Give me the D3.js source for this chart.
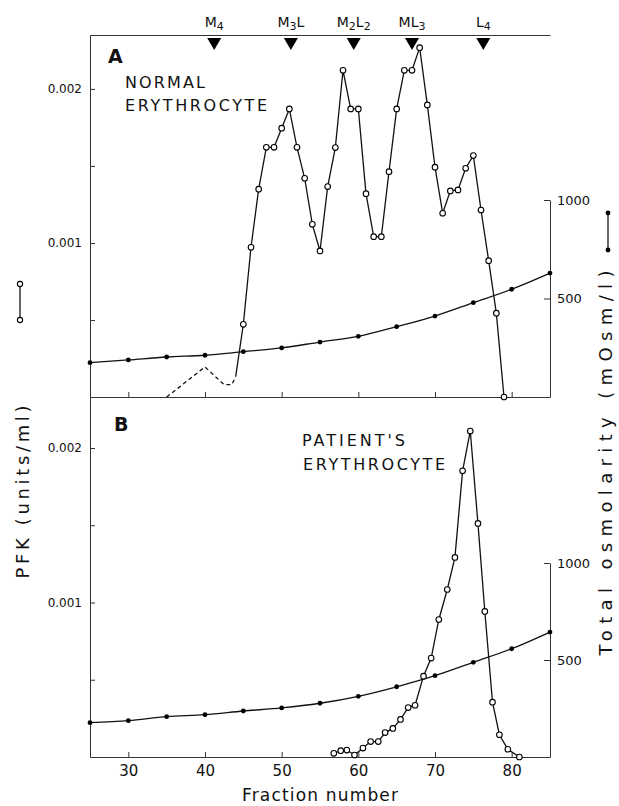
<!DOCTYPE html>
<html><head><meta charset="utf-8">
<script src="https://cdn.jsdelivr.net/npm/d3@7"></script>
<style>
body{margin:0;background:#fff}
svg{display:block}
text{font-family:'DejaVu Sans',sans-serif;fill:#111}
</style>
</head><body>
<svg id="c" width="619" height="806"></svg>
<script>
// ---------------- data ----------------
const osmFractions = [25,30,35,40,45,50,55,60,65,70,75,80,85];
const osmNormal  = [174,188,203,212,230,249,279,308,357,411,479,547,629];
const osmPatient = [177,187,208,218,237,253,277,313,362,419,488,558,644];

const normalFractions = [44,45,46,47,48,49,50,51,52,53,54,55,56,57,58,59,60,61,62,63,64,65,66,67,68,69,70,71,72,73,74,75,76,77,78,79];
const normalPFK = [0.000132,0.000472,0.000972,0.001349,0.001621,0.001621,0.001745,0.00187,0.001621,0.00142,0.001121,0.000948,0.001366,0.001619,0.002121,0.00187,0.00187,0.00132,0.001041,0.001041,0.001463,0.00187,0.002121,0.002121,0.002268,0.001896,0.001492,0.001193,0.001338,0.001344,0.001485,0.001567,0.001214,0.000885,0.000544,0];

const normalDashFractions = [35,40,42.5,43.5,44];
const normalDashPFK = [0,0.000195,0.00008,0.00008,0.000132];

const patientFractions = [56.8,57.7,58.5,59.5,60.6,61.6,62.6,63.5,64.5,65.5,66.5,67.4,68.5,69.5,70.5,71.6,72.6,73.6,74.6,75.6,76.5,77.5,78.4,79.5,81];
const patientPFK = [0.000024,0.000041,0.000045,0.000013,0.000058,0.0001,0.0001,0.000158,0.000185,0.000243,0.00032,0.000335,0.000523,0.00064,0.00089,0.001084,0.001292,0.001852,0.00211,0.001512,0.000942,0.000355,0.000144,0.00005,0];

const isozymeNames = ["M4","M3L","M2L2","ML3","L4"];
const isozymeFractions = [41.2,51.2,59.4,67.0,76.3];

const xTicks = [30,40,50,60,70,80];
const pfkTicks = [0.0005,0.001,0.0015,0.002];
const pfkLabels = [0.001,0.002];
const osmTicks = [500,1000];

// ---------------- scales ----------------
const svg = d3.select("#c");
const x  = d3.scaleLinear().domain([25,85]).range([90,550]);
const yA = d3.scaleLinear().domain([0,0.00235]).range([397,35]);
const yB = d3.scaleLinear().domain([0,0.00233]).range([757,397]);
const oA = d3.scaleLinear().domain([0,1000]).range([397,200]);
const oB = d3.scaleLinear().domain([0,1000]).range([757,563]);

const axisColor = "#333";
function styleAxis(g, fs){
  g.select(".domain").attr("stroke", axisColor).attr("stroke-width",1);
  g.selectAll(".tick line").attr("stroke", axisColor).attr("stroke-width",1);
  g.selectAll(".tick text").attr("fill","#111").style("font-family","'DejaVu Sans',sans-serif").style("font-size",fs+"px");
}
const pfkFmt = d => pfkLabels.includes(d) ? d3.format(".3f")(d) : "";

// left axes
svg.append("g").attr("transform","translate(90,0)")
  .call(d3.axisLeft(yA).tickValues(pfkTicks).tickSizeInner(-5).tickSizeOuter(0).tickPadding(8).tickFormat(pfkFmt))
  .call(g=>styleAxis(g,12));
svg.append("g").attr("transform","translate(90,0)")
  .call(d3.axisLeft(yB).tickValues(pfkTicks).tickSizeInner(-5).tickSizeOuter(0).tickPadding(8).tickFormat(pfkFmt))
  .call(g=>styleAxis(g,12));
// right axes
svg.append("g").attr("transform","translate(550,0)")
  .call(d3.axisRight(oA).tickValues(osmTicks).tickSizeInner(-6).tickSizeOuter(0).tickPadding(7).tickFormat(d3.format("d")))
  .call(g=>styleAxis(g,13));
svg.append("g").attr("transform","translate(550,0)")
  .call(d3.axisRight(oB).tickValues(osmTicks).tickSizeInner(-6).tickSizeOuter(0).tickPadding(7).tickFormat(d3.format("d")))
  .call(g=>styleAxis(g,13));
// bottom axes
svg.append("g").attr("transform","translate(0,397)")
  .call(d3.axisBottom(x).tickValues(xTicks).tickSizeInner(-5).tickSizeOuter(0).tickFormat(""))
  .call(g=>styleAxis(g,13));
svg.append("g").attr("transform","translate(0,757)")
  .call(d3.axisBottom(x).tickValues(xTicks).tickSizeInner(-5).tickSizeOuter(0).tickPadding(8))
  .call(g=>styleAxis(g,15));
// top frame
svg.append("g").attr("transform","translate(0,35)")
  .call(d3.axisTop(x).tickValues([]).tickSizeOuter(0))
  .call(g=>styleAxis(g,13));

// ---------------- isozyme markers ----------------
const tri = d3.symbol().type(d3.symbolTriangle).size(85);
svg.selectAll("path.iso").data(isozymeFractions).join("path")
  .attr("class","iso")
  .attr("transform", d => `translate(${x(d)},42) rotate(180)`)
  .attr("d", tri).attr("fill","#000");
const isoLab = svg.selectAll("text.iso").data(isozymeNames).join("text")
  .attr("class","iso")
  .attr("x",(d,i)=>x(isozymeFractions[i]))
  .attr("y",27).attr("text-anchor","middle")
  .style("font-size","14px");
isoLab.each(function(name){
  const t = d3.select(this);
  const parts = name.match(/[A-Z]+|\d+/g);
  let sub = false;
  parts.forEach(p=>{
    const isNum = /\d/.test(p);
    const sp = t.append("tspan").text(p);
    if(isNum){ sp.attr("dy",3).style("font-size","11px"); sub=true; }
    else if(sub){ sp.attr("dy",-3); sub=false; }
  });
});

// ---------------- lines ----------------
const lineStroke = "#111";
function drawOsm(vals, yScale){
  const pts = osmFractions.map((f,i)=>[x(f), yScale(vals[i])]);
  svg.append("path").attr("d", d3.line().curve(d3.curveMonotoneX)(pts))
    .attr("fill","none").attr("stroke",lineStroke).attr("stroke-width",1.3);
  svg.append("g").selectAll("circle").data(pts).join("circle")
    .attr("cx",d=>d[0]).attr("cy",d=>d[1]).attr("r",2.4).attr("fill","#000");
}
drawOsm(osmNormal, oA);
drawOsm(osmPatient, oB);

// normal dashed part
svg.append("path")
  .attr("d", d3.line()(normalDashFractions.map((f,i)=>[x(f), yA(normalDashPFK[i])])))
  .attr("fill","none").attr("stroke",lineStroke).attr("stroke-width",1.3).attr("stroke-dasharray","4,3");

function drawPFK(fr, vals, yScale, skipFirst){
  const pts = fr.map((f,i)=>[x(f), yScale(vals[i])]);
  svg.append("path").attr("d", d3.line()(pts))
    .attr("fill","none").attr("stroke",lineStroke).attr("stroke-width",1.3);
  svg.append("g").selectAll("circle").data(skipFirst ? pts.slice(1) : pts).join("circle")
    .attr("cx",d=>d[0]).attr("cy",d=>d[1]).attr("r",2.8)
    .attr("fill","#fff").attr("stroke","#000").attr("stroke-width",1.1);
}
drawPFK(normalFractions, normalPFK, yA, true);
drawPFK(patientFractions, patientPFK, yB, false);

// ---------------- texts ----------------
svg.append("text").attr("x",108).attr("y",63).text("A")
  .style("font-size","19px").style("font-weight","bold");
svg.append("text").attr("x",114).attr("y",431).text("B")
  .style("font-size","19px").style("font-weight","bold");

function label(txt, xx, yy, len){
  svg.append("text").attr("x",xx).attr("y",yy).text(txt)
    .style("font-size","16px").attr("textLength",len).attr("lengthAdjust","spacing");
}
label("NORMAL",125,88,80);
label("ERYTHROCYTE",125,111,142);
label("PATIENT'S",302,446,103);
label("ERYTHROCYTE",303,470,142);

// axis titles
svg.append("text").attr("transform","translate(29,492) rotate(-90)")
  .attr("text-anchor","middle").text("PFK (units/ml)")
  .style("font-size","18px").attr("textLength",173).attr("lengthAdjust","spacing");
svg.append("text").attr("transform","translate(612,463) rotate(-90)")
  .attr("text-anchor","middle").text("Total osmolarity (mOsm/l)")
  .style("font-size","18px").attr("textLength",385).attr("lengthAdjust","spacing");
svg.append("text").attr("x",320).attr("y",801).attr("text-anchor","middle")
  .text("Fraction number").style("font-size","17px").attr("textLength",156).attr("lengthAdjust","spacing");

// legend symbols
svg.append("line").attr("x1",20).attr("x2",20).attr("y1",284).attr("y2",320).attr("stroke","#000").attr("stroke-width",1.2);
svg.selectAll("circle.legO").data([284,320]).join("circle").attr("class","legO")
  .attr("cx",20).attr("cy",d=>d).attr("r",2.6).attr("fill","#fff").attr("stroke","#000").attr("stroke-width",1.1);
svg.append("line").attr("x1",608).attr("x2",608).attr("y1",213).attr("y2",250).attr("stroke","#000").attr("stroke-width",1.2);
svg.selectAll("circle.legF").data([213,250]).join("circle").attr("class","legF")
  .attr("cx",608).attr("cy",d=>d).attr("r",2.4).attr("fill","#000");
</script>
</body></html>
